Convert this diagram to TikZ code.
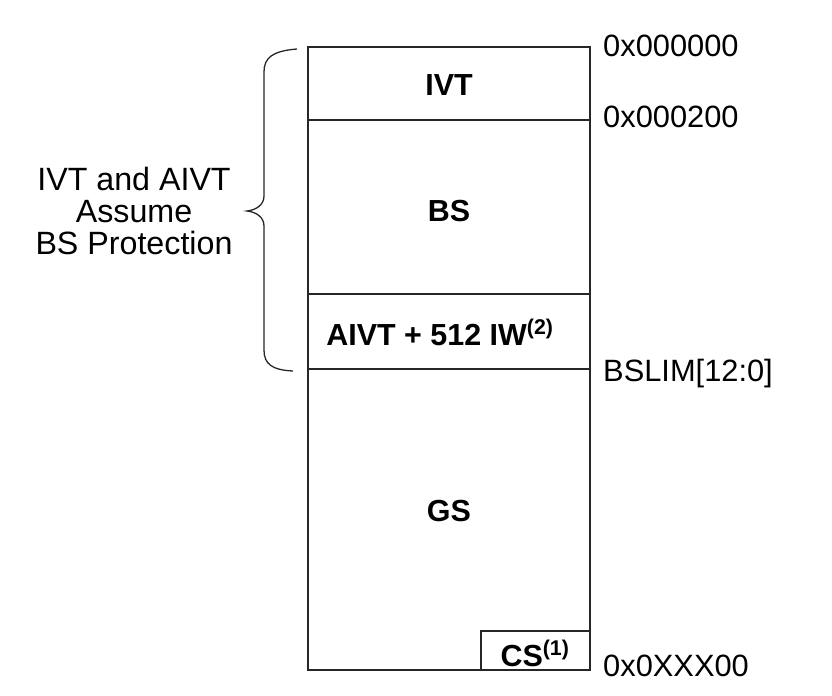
\documentclass[tikz,border=0pt]{standalone}
\usepackage{fontspec}
\setmainfont{Liberation Sans}
\usetikzlibrary{positioning}
\tikzset{
  memline/.style={line width=1.3pt, draw=black!85},
  region/.style={font=\fontsize{26}{26}\selectfont\bfseries, inner sep=0pt, anchor=base},
  addr/.style={font=\fontsize{26.3}{26}\selectfont, inner sep=0pt, anchor=base west},
  note/.style={font=\fontsize{27.5}{27.4}\selectfont, align=center, inner sep=0pt}
}
\begin{document}
\begin{tikzpicture}[x=0.03cm, y=-0.03cm]
        \useasboundingbox (0,0) rectangle (832,696);
        % memory map outline
        \coordinate (topL) at (308,47);
        \coordinate (botR) at (590,670);
        \draw [memline] (topL) rectangle (botR);
        \draw [memline] (308,120) -- (590,120);
        \draw [memline] (308,294) -- (590,294);
        \draw [memline] (308,369) -- (590,369);
        \draw [memline] (481,631) rectangle (590,670);

        % region labels
        \node (ivt) [region] at (449,95) {IVT};
        \node (bs) [region] at (449,221) {BS};
        \node (aivt) [region] at (440,345) {AIVT + 512 IW\textsuperscript{(2)}};
        \node (gs) [region] at (449,521) {GS};
        \node (cs) [region] at (535,666) {CS\textsuperscript{(1)}};

        % addresses
        \node (a0) [addr] at (603,56) {0x000000};
        \node (a200) [addr] at (603,127) {0x000200};
        \node (bslim) [addr] at (603,381) {BSLIM[12:0]};
        \node (aend) [addr] at (603,676) {0x0XXX00};

        % brace
        \draw [memline, line width=1.1pt] (297,49) .. controls (272,51) and (264,58) .. (264,72)
          -- (264,196) .. controls (264,205) and (256,210) .. (247,211)
          .. controls (256,212) and (264,217) .. (264,226)
          -- (264,350) .. controls (264,364) and (272,370) .. (293,371);
        \node (prot) [note] at (134,211) {IVT and AIVT\\Assume\\BS Protection};
    \end{tikzpicture}
\end{document}
